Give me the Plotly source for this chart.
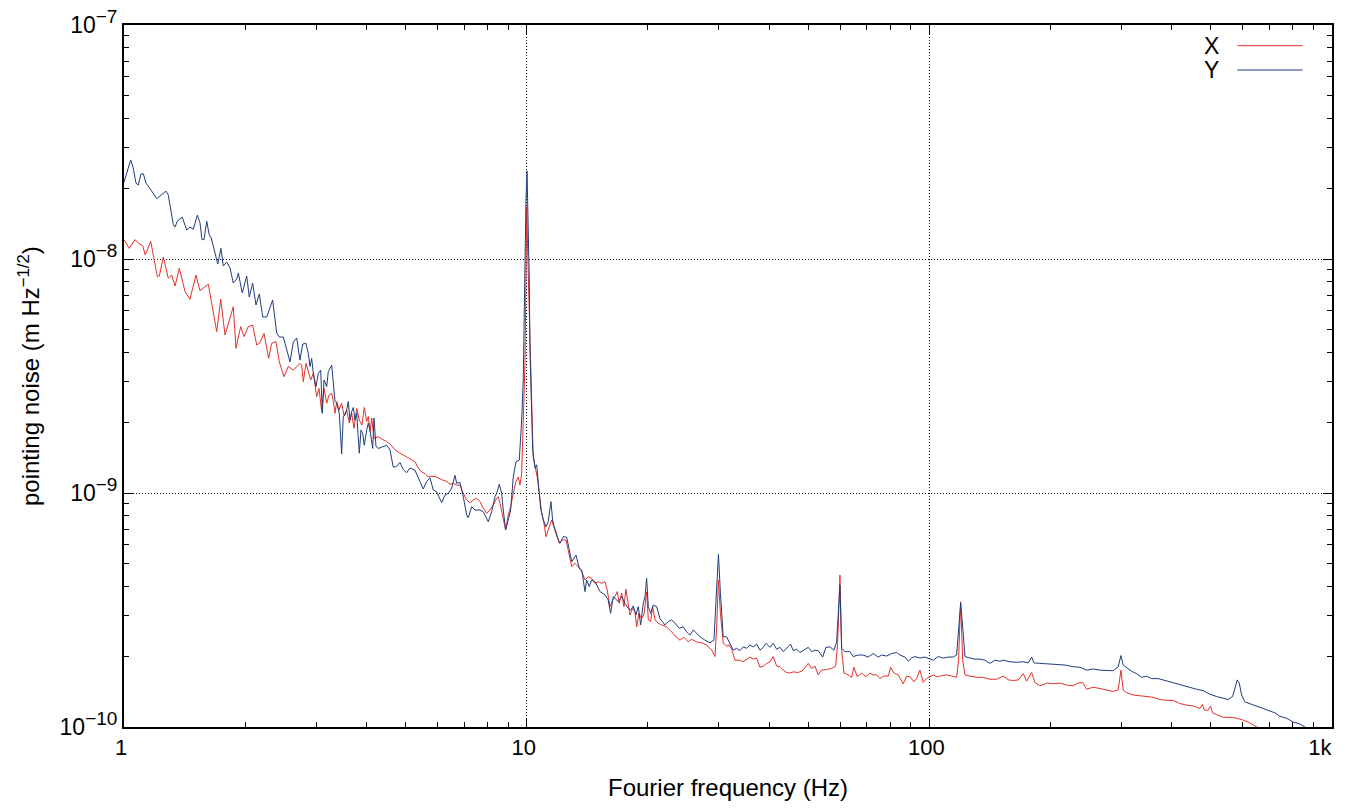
import plotly.graph_objects as go

# pointing noise amplitude spectral density, values in units of 1e-10 m Hz^-1/2
SCALE = 1e-10

# X axis channel (red)
freq_x = [
    1.000, 1.031, 1.065, 1.091, 1.113, 1.129, 1.165, 1.210, 1.224, 1.252,
    1.288, 1.313, 1.339, 1.372, 1.418, 1.458, 1.509, 1.544, 1.589, 1.620,
    1.699, 1.739, 1.782, 1.816, 1.868, 1.897, 1.949, 1.987, 2.035, 2.087,
    2.136, 2.176, 2.227, 2.287, 2.326, 2.385, 2.430, 2.496, 2.558, 2.633,
    2.685, 2.735, 2.762, 2.788, 2.831, 2.869, 2.909, 2.952, 3.010, 3.050,
    3.097, 3.138, 3.187, 3.229, 3.280, 3.310, 3.342, 3.375, 3.419, 3.472,
    3.518, 3.573, 3.627, 3.677, 3.725, 3.784, 3.840, 3.899, 3.951, 4.006,
    4.043, 4.082, 4.122, 4.177, 4.281, 4.365, 4.491, 4.576, 4.709, 4.846,
    4.985, 5.131, 5.281, 5.380, 5.486, 5.591, 5.698, 5.807, 5.978, 6.151,
    6.330, 6.451, 6.574, 6.702, 6.830, 6.960, 7.096, 7.231, 7.369, 7.514,
    7.656, 7.802, 7.956, 8.108, 8.262, 8.424, 8.502, 8.585, 8.718, 8.867,
    9.000, 9.125, 9.263, 9.406, 9.531, 9.624, 9.718, 9.807, 9.903, 9.960,
    10.00, 10.07, 10.19, 10.29, 10.38, 10.49, 10.62, 10.79, 10.90, 11.04,
    11.17, 11.31, 11.54, 11.64, 11.83, 12.05, 12.29, 12.52, 12.69, 12.94,
    13.18, 13.43, 13.70, 13.96, 14.22, 14.50, 14.78, 15.06, 15.36, 15.65,
    15.85, 16.10, 16.35, 16.57, 16.79, 16.98, 17.22, 17.44, 17.64, 17.88,
    18.05, 18.33, 18.57, 18.76, 19.00, 19.30, 19.55, 19.86, 20.05, 20.32,
    20.55, 20.83, 21.22, 21.64, 22.27, 22.91, 23.48, 24.02, 24.58, 25.19,
    25.69, 26.44, 27.21, 28.00, 28.81, 29.36, 29.64, 29.94, 30.28, 30.77,
    31.37, 31.85, 32.28, 32.90, 33.86, 34.50, 35.18, 35.85, 36.54, 37.25,
    37.96, 38.68, 39.45, 40.19, 40.96, 41.77, 42.56, 43.38, 44.22, 45.06,
    45.92, 47.26, 48.63, 50.04, 51.02, 51.99, 52.98, 54.02, 55.59, 57.21,
    58.53, 59.20, 59.98, 60.57, 61.37, 62.88, 64.12, 64.97, 66.20, 67.91,
    69.59, 71.19, 72.56, 73.98, 75.40, 76.84, 79.07, 80.16, 81.69, 83.73,
    86.14, 87.83, 89.50, 91.56, 92.98, 94.76, 96.57, 98.46, 100.3, 102.2,
    104.3, 107.3, 110.4, 113.6, 116.9, 118.2, 119.6, 121.0, 122.6, 126.2,
    131.1, 136.1, 141.4, 146.9, 152.6, 157.0, 161.6, 166.3, 171.1, 174.5,
    179.5, 182.9, 188.2, 195.6, 203.1, 211.0, 219.2, 227.7, 234.3, 240.3,
    245.8, 255.3, 265.3, 275.6, 286.2, 294.5, 299.1, 303.0, 309.0, 320.9,
    333.4, 346.4, 359.7, 373.8, 388.4, 403.3, 419.0, 435.5, 452.2, 469.7,
    477.0, 481.4, 492.5, 499.3, 505.0, 516.9, 536.8, 557.6, 579.5, 601.7,
    619.3, 637.3, 654.6, 701.2,
]
noise_x = [
    121, 111, 121, 116, 114, 104, 119, 84.1, 84.6, 102,
    82.7, 85.4, 76.7, 91.3, 72.5, 67.3, 85.4, 73.2, 76.1, 78.0,
    48.9, 67.3, 47.3, 53.4, 62.5, 41.5, 51.4, 46.6, 51.4, 52.2,
    42.9, 43.9, 48.1, 37.6, 43.6, 44.4, 36.4, 31.4, 34.7, 33.5,
    34.7, 35.8, 35.2, 29.9, 35.8, 33.0, 30.4, 32.5, 25.8, 28.0,
    22.3, 28.0, 24.2, 26.2, 26.7, 24.6, 21.9, 24.6, 22.6, 24.2,
    21.5, 22.6, 19.9, 21.9, 18.9, 23.0, 20.5, 19.5, 23.2, 20.2,
    21.2, 18.3, 20.9, 17.1, 17.4, 17.0, 16.6, 16.2, 15.3, 14.8,
    14.4, 14.1, 13.6, 12.8, 12.3, 12.1, 11.7, 11.8, 11.7, 11.4,
    11.2, 10.9, 11.0, 10.8, 10.8, 9.97, 9.34, 9.09, 9.34, 9.49,
    9.18, 8.61, 8.19, 8.46, 8.89, 9.49, 9.64, 9.04, 8.05, 6.95,
    8.05, 8.74, 9.97, 11.2, 11.7, 10.8, 12.1, 18.6, 35.8, 81.3,
    167, 99.0, 49.7, 25.8, 14.3, 13.0, 11.7, 9.49, 8.19, 7.42,
    6.51, 6.95, 7.67, 7.30, 6.83, 6.10, 6.30, 6.30, 5.71, 4.84,
    5.01, 4.84, 4.61, 4.25, 4.39, 4.32, 4.11, 4.18, 4.11, 4.18,
    3.85, 3.27, 3.49, 3.61, 3.79, 3.38, 3.73, 3.27, 3.88, 3.32,
    3.01, 3.22, 3.11, 2.68, 3.06, 2.91, 3.01, 3.78, 2.87, 2.82,
    3.27, 2.87, 2.78, 2.73, 2.68, 2.55, 2.43, 2.35, 2.42, 2.31,
    2.37, 2.31, 2.29, 2.24, 2.13, 2.00, 2.68, 4.25, 3.06, 2.28,
    2.22, 2.24, 2.15, 1.93, 1.93, 1.90, 1.95, 1.99, 1.95, 1.97,
    1.80, 1.82, 1.87, 1.90, 2.00, 1.82, 1.81, 1.75, 1.71, 1.70,
    1.72, 1.71, 1.75, 1.87, 1.78, 1.82, 1.67, 1.75, 1.76, 1.78,
    1.82, 2.28, 4.46, 2.13, 1.70, 1.67, 1.63, 1.80, 1.64, 1.70,
    1.64, 1.70, 1.67, 1.67, 1.61, 1.65, 1.65, 1.80, 1.70, 1.67,
    1.53, 1.65, 1.64, 1.56, 1.61, 1.75, 1.55, 1.61, 1.64, 1.67,
    1.64, 1.65, 1.67, 1.65, 1.63, 1.93, 3.43, 1.93, 1.67, 1.65,
    1.63, 1.63, 1.60, 1.60, 1.65, 1.59, 1.58, 1.59, 1.69, 1.57,
    1.71, 1.55, 1.50, 1.54, 1.53, 1.54, 1.51, 1.50, 1.54, 1.55,
    1.45, 1.48, 1.46, 1.44, 1.42, 1.44, 1.75, 1.44, 1.40, 1.37,
    1.36, 1.35, 1.34, 1.31, 1.30, 1.30, 1.26, 1.24, 1.23, 1.20,
    1.25, 1.18, 1.18, 1.23, 1.15, 1.13, 1.10, 1.10, 1.09, 1.07,
    1.05, 1.02, 0.995, 0.943,
]

# Y axis channel (blue)
freq_y = [
    1.000, 1.039, 1.053, 1.071, 1.085, 1.102, 1.117, 1.134, 1.167, 1.206,
    1.271, 1.288, 1.326, 1.339, 1.356, 1.395, 1.431, 1.458, 1.486, 1.521,
    1.544, 1.562, 1.580, 1.605, 1.628, 1.647, 1.683, 1.709, 1.741, 1.764,
    1.799, 1.834, 1.868, 1.905, 1.923, 1.966, 2.017, 2.047, 2.087, 2.127,
    2.168, 2.211, 2.262, 2.296, 2.340, 2.394, 2.430, 2.487, 2.525, 2.584,
    2.633, 2.685, 2.735, 2.778, 2.831, 2.869, 2.897, 2.925, 2.952, 2.998,
    3.038, 3.080, 3.108, 3.138, 3.187, 3.216, 3.280, 3.310, 3.342, 3.375,
    3.425, 3.472, 3.504, 3.538, 3.573, 3.606, 3.641, 3.677, 3.711, 3.747,
    3.784, 3.840, 3.878, 3.915, 3.951, 4.006, 4.043, 4.082, 4.146, 4.177,
    4.225, 4.281, 4.491, 4.576, 4.663, 4.755, 4.846, 4.938, 5.035, 5.131,
    5.281, 5.433, 5.536, 5.645, 5.753, 5.863, 5.978, 6.151, 6.268, 6.388,
    6.513, 6.637, 6.702, 6.830, 6.960, 7.096, 7.161, 7.302, 7.441, 7.656,
    7.802, 8.028, 8.186, 8.342, 8.424, 8.550, 8.667, 8.747, 8.867, 9.000,
    9.125, 9.263, 9.406, 9.585, 9.718, 9.807, 9.846, 9.903, 9.960, 10.02,
    10.09, 10.15, 10.19, 10.35, 10.49, 10.59, 10.69, 10.83, 11.00, 11.17,
    11.31, 11.49, 11.60, 11.75, 11.94, 12.10, 12.33, 12.57, 12.76, 12.94,
    13.26, 13.51, 13.70, 13.82, 13.96, 14.09, 14.30, 14.50, 14.78, 15.21,
    15.65, 15.94, 16.16, 16.41, 16.89, 17.22, 17.54, 17.88, 18.13, 18.40,
    18.68, 18.93, 19.19, 19.48, 19.67, 19.86, 20.05, 20.32, 20.62, 21.03,
    21.43, 22.05, 22.47, 22.91, 23.35, 23.92, 24.48, 24.96, 25.44, 25.93,
    26.44, 26.94, 27.72, 28.52, 29.18, 29.64, 29.94, 30.28, 30.77, 31.37,
    31.97, 32.59, 33.23, 33.86, 34.50, 35.18, 35.85, 36.54, 37.25, 37.96,
    38.68, 39.29, 40.19, 40.96, 41.77, 42.56, 43.38, 44.22, 45.24, 45.92,
    46.83, 47.71, 49.10, 50.04, 51.02, 51.99, 52.98, 54.33, 55.36, 56.64,
    57.95, 58.85, 59.98, 60.57, 61.71, 63.50, 64.71, 66.59, 68.53, 70.51,
    72.56, 74.66, 76.12, 78.33, 80.60, 82.96, 84.53, 86.98, 88.64, 90.36,
    92.08, 94.76, 97.50, 100.3, 102.2, 105.2, 108.3, 111.4, 114.6, 116.9,
    118.2, 119.6, 121.0, 122.6, 126.2, 129.8, 133.6, 137.4, 141.4, 145.5,
    149.7, 152.6, 158.5, 164.8, 171.1, 176.1, 179.5, 181.9, 188.2, 197.3,
    207.1, 217.2, 227.7, 236.6, 245.8, 255.3, 265.3, 275.6, 286.2, 294.5,
    299.1, 303.0, 309.0, 318.0, 327.2, 336.7, 346.4, 356.5, 370.2, 384.6,
    399.7, 411.3, 427.1, 443.8, 461.1, 478.8, 497.6, 516.9, 536.8, 552.4,
    566.5, 575.0, 581.6, 588.4, 596.5, 607.8, 625.4, 649.8, 674.8, 701.2,
    721.5, 742.4, 771.4, 801.0, 832.2, 856.5, 907.0,
]
noise_y = [
    213, 265, 247, 211, 207, 231, 231, 211, 197, 181,
    195, 188, 140, 137, 145, 151, 133, 137, 134, 154,
    143, 121, 121, 145, 127, 123, 106, 95.2, 111, 93.3,
    97.1, 91.5, 78.9, 82.1, 87.1, 71.6, 84.6, 68.8, 78.9, 63.6,
    70.9, 56.5, 56.5, 60.5, 66.8, 48.3, 46.4, 46.4, 42.1, 36.3,
    44.2, 46.0, 37.0, 43.3, 43.6, 39.5, 34.7, 37.6, 32.5, 28.5,
    32.5, 33.5, 21.9, 30.4, 28.5, 33.0, 35.2, 29.4, 24.6, 24.2,
    21.9, 14.7, 21.3, 21.5, 22.6, 24.6, 20.5, 22.3, 23.2, 20.5,
    21.9, 14.8, 18.6, 18.0, 16.0, 18.6, 19.9, 18.6, 15.5, 20.9,
    15.8, 15.5, 16.0, 15.3, 12.9, 13.0, 13.5, 12.6, 12.2, 12.8,
    12.5, 11.2, 10.4, 11.2, 11.6, 10.3, 10.1, 9.09, 9.80, 9.97,
    10.5, 11.9, 11.0, 11.1, 9.64, 8.05, 7.84, 8.74, 8.46, 8.46,
    8.32, 7.54, 8.32, 9.64, 9.97, 10.9, 9.97, 8.46, 6.95, 7.67,
    8.46, 11.7, 13.6, 13.8, 20.5, 30.4, 56.7, 109, 179, 238,
    152, 81.3, 40.8, 15.3, 12.8, 13.2, 11.0, 8.61, 7.67, 7.18,
    7.54, 9.18, 7.67, 6.95, 6.40, 6.10, 6.51, 6.47, 5.71, 5.09,
    5.43, 4.77, 4.69, 4.25, 3.79, 4.25, 3.98, 4.25, 4.18, 3.79,
    3.67, 3.49, 3.06, 3.61, 3.43, 3.61, 3.38, 3.22, 3.16, 3.29,
    3.01, 3.27, 2.73, 3.38, 3.61, 4.32, 3.27, 3.06, 3.32, 3.27,
    2.91, 2.73, 2.82, 2.87, 2.78, 2.64, 2.68, 2.55, 2.47, 2.60,
    2.51, 2.43, 2.35, 2.29, 2.35, 3.73, 5.47, 3.73, 2.43, 2.43,
    2.28, 2.13, 2.17, 2.12, 2.20, 2.17, 2.24, 2.20, 2.26, 2.13,
    2.19, 2.28, 2.19, 2.28, 2.15, 2.19, 2.10, 2.17, 2.26, 2.12,
    2.15, 2.08, 2.15, 2.19, 2.10, 2.13, 2.12, 1.99, 2.19, 2.20,
    2.13, 2.31, 4.04, 2.17, 2.10, 2.10, 2.00, 2.03, 2.03, 1.99,
    2.06, 1.99, 2.03, 2.01, 2.06, 2.08, 2.03, 1.99, 1.91, 1.97,
    2.00, 1.97, 1.99, 1.95, 1.93, 2.00, 1.97, 1.99, 1.99, 2.03,
    2.68, 3.39, 2.68, 2.00, 1.97, 1.95, 1.95, 1.93, 1.87, 1.93,
    1.91, 1.93, 1.90, 1.89, 1.90, 1.88, 1.99, 1.88, 1.87, 1.86,
    1.85, 1.84, 1.81, 1.80, 1.75, 1.77, 1.75, 1.74, 1.74, 1.81,
    2.02, 1.84, 1.79, 1.73, 1.69, 1.63, 1.65, 1.61, 1.61, 1.58,
    1.56, 1.54, 1.51, 1.48, 1.45, 1.43, 1.38, 1.35, 1.33, 1.31,
    1.35, 1.48, 1.59, 1.54, 1.37, 1.28, 1.26, 1.23, 1.20, 1.17,
    1.15, 1.11, 1.09, 1.05, 1.03, 1.00, 0.952,
]

x_ticks = [1, 10, 100, 1000]
x_tick_labels = ["1", "10", "100", "1k\u00a0\u00a0\u00a0"]
y_ticks = [1e-10, 1e-9, 1e-8, 1e-7]
y_tick_labels = [
    "10<sup><span style='font-size:19px'>−10</span></sup>",
    "10<sup><span style='font-size:19px'>−9</span></sup>",
    "10<sup><span style='font-size:19px'>−8</span></sup>",
    "10<sup><span style='font-size:19px'>−7</span></sup>",
]

RED = "#e3302c"
BLUE = "#1f3d7c"
FONT = "Liberation Sans, Arial, Helvetica, sans-serif"

x_minor = [m * d for d in (1, 10, 100) for m in range(2, 10)]
y_minor = [m * d for d in (1e-10, 1e-9, 1e-8) for m in range(2, 10)]

fig = go.Figure()
fig.add_trace(go.Scatter(x=freq_x, y=[v * SCALE for v in noise_x], mode="lines",
                         line=dict(color=RED, width=1), name="X"))
fig.add_trace(go.Scatter(x=freq_y, y=[v * SCALE for v in noise_y], mode="lines",
                         line=dict(color=BLUE, width=1), name="Y"))

axis_style = dict(
    type="log", ticks="inside", ticklen=9, tickwidth=1, tickcolor="black",
    showline=True, linecolor="black", linewidth=2, mirror="allticks",
    showgrid=True, gridcolor="black", griddash="1px,2px", gridwidth=1,
    zeroline=False, automargin=False, ticklabeloverflow="allow",
)

fig.update_xaxes(
    **axis_style, range=[0, 3], tickmode="array", tickvals=x_ticks, ticktext=x_tick_labels,
    ticklabelshift=-3, tickfont=dict(family=FONT, size=22, color="black"),
    minor=dict(tickmode="array", tickvals=x_minor, ticks="inside", ticklen=5,
               tickcolor="black", showgrid=False),
)
fig.update_yaxes(
    **axis_style, range=[-10, -7], tickmode="array", tickvals=y_ticks, ticktext=y_tick_labels,
    tickfont=dict(family=FONT, size=23, color="black"),
    minor=dict(tickmode="array", tickvals=y_minor, ticks="inside", ticklen=5,
               tickcolor="black", showgrid=False),
)

# axis titles placed as in the gnuplot original
fig.add_annotation(x=0.5, y=-0.0855, xref="paper", yref="paper",
                   text="Fourier frequency (Hz)", showarrow=False,
                   xanchor="center", yanchor="middle",
                   font=dict(family=FONT, size=24, color="black"))
fig.add_annotation(x=-0.0786, y=0.5, xref="paper", yref="paper",
                   text="pointing noise (m Hz<sup>−1/2</sup>)", showarrow=False,
                   textangle=-90, xanchor="center", yanchor="middle",
                   font=dict(family=FONT, size=24, color="black"))

# gnuplot-style key: label on the left, line sample on the right
for label, color, ypos in (("X", RED, 0.9705), ("Y", BLUE, 0.9359)):
    fig.add_annotation(x=0.9081, y=ypos, xref="paper", yref="paper", text=label,
                       showarrow=False, xanchor="right", yanchor="middle",
                       font=dict(family=FONT, size=23, color="black"))
    fig.add_shape(type="line", xref="paper", yref="paper", x0=0.9216, x1=0.9757,
                  y0=ypos, y1=ypos, line=dict(color=color, width=1))

# the page body adds an 8px offset, so the figure is 8px smaller than the window
fig.update_layout(
    width=1340, height=800,
    margin=dict(l=116, r=16, t=17, b=81),
    plot_bgcolor="white", paper_bgcolor="white",
    showlegend=False,
    font=dict(family=FONT, size=22, color="black"),
)

fig.write_html("out.html")
